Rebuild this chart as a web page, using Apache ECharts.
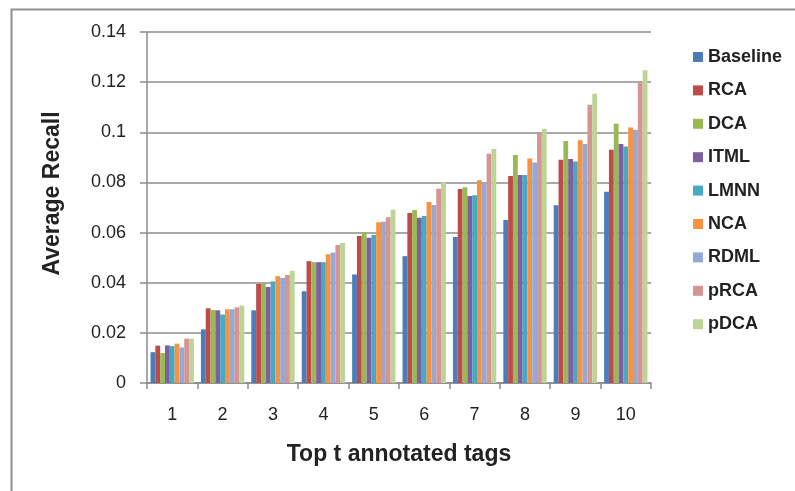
<!DOCTYPE html>
<html>
<head>
<meta charset="utf-8">
<script src="https://cdn.jsdelivr.net/npm/echarts@6/dist/echarts.min.js"></script>
<style>html,body{margin:0;padding:0;background:#fff;}#c{width:795px;height:491px;}</style>
</head>
<body>
<div id="c"></div>
<script>
var categories = ['1','2','3','4','5','6','7','8','9','10'];
var seriesNames = ['Baseline','RCA','DCA','ITML','LMNN','NCA','RDML','pRCA','pDCA'];
var baseline = [0.0123, 0.0214, 0.0290, 0.0366, 0.0433, 0.0506, 0.0582, 0.0650, 0.0709, 0.0763];
var rca      = [0.0149, 0.0298, 0.0395, 0.0486, 0.0586, 0.0678, 0.0774, 0.0826, 0.0890, 0.0930];
var dca      = [0.0119, 0.0291, 0.0395, 0.0482, 0.0601, 0.0690, 0.0781, 0.0909, 0.0965, 0.1034];
var itml     = [0.0150, 0.0290, 0.0383, 0.0482, 0.0579, 0.0659, 0.0746, 0.0830, 0.0893, 0.0953];
var lmnn     = [0.0147, 0.0273, 0.0405, 0.0482, 0.0590, 0.0666, 0.0749, 0.0830, 0.0883, 0.0943];
var nca      = [0.0157, 0.0294, 0.0426, 0.0514, 0.0641, 0.0722, 0.0809, 0.0895, 0.0968, 0.1019];
var rdml     = [0.0142, 0.0294, 0.0419, 0.0521, 0.0643, 0.0710, 0.0802, 0.0879, 0.0953, 0.1010];
var prca     = [0.0177, 0.0302, 0.0431, 0.0550, 0.0661, 0.0775, 0.0914, 0.0995, 0.1110, 0.1201];
var pdca     = [0.0177, 0.0309, 0.0447, 0.0558, 0.0691, 0.0802, 0.0933, 0.1014, 0.1154, 0.1247];
var yTicks = ['0','0.02','0.04','0.06','0.08','0.1','0.12','0.14'];

var allData = [baseline, rca, dca, itml, lmnn, nca, rdml, prca, pdca];
var colors = ['#4a7ebb','#be4b48','#98b954','#7d60a0','#46aac5','#f69240','#95a9d5','#d69592','#bdd497'];
var gridColor = '#8c8c8c';
var font = '"Liberation Sans", Arial, sans-serif';

var chart = echarts.init(document.getElementById('c'), null, {renderer: 'canvas'});
chart.setOption({
  animation: false,
  backgroundColor: '#ffffff',
  color: colors,
  graphic: [{
    type: 'rect', left: 9, top: 7,
    shape: {x: 0, y: 0, width: 900, height: 600},
    style: {fill: 'none', stroke: '#8f8f8f', lineWidth: 2},
    silent: true, z: -1
  }],
  grid: {left: 147, right: 144, top: 32, bottom: 108, containLabel: false},
  legend: {
    orient: 'vertical', left: 688, top: 43,
    itemWidth: 10, itemHeight: 10, itemGap: 15.4,
    icon: 'rect',
    data: seriesNames,
    textStyle: {fontFamily: font, fontSize: 18, fontWeight: 'bold', color: '#222'}
  },
  xAxis: {
    type: 'category', data: categories,
    name: 'Top t annotated tags', nameLocation: 'middle', nameGap: 60,
    nameTextStyle: {fontFamily: font, fontSize: 23, fontWeight: 'bold', color: '#222'},
    axisLine: {lineStyle: {color: gridColor, width: 1.5}},
    axisTick: {show: true, length: 6, lineStyle: {color: gridColor, width: 1.5}},
    axisLabel: {fontFamily: font, fontSize: 18, color: '#222', margin: 23}
  },
  yAxis: {
    type: 'value', min: 0, max: 0.14, interval: 0.02,
    name: 'Average Recall', nameLocation: 'middle', nameGap: 83,
    nameTextStyle: {fontFamily: font, fontSize: 23, fontWeight: 'bold', color: '#222', padding: [0, 0, 0, 28]},
    axisLine: {show: true, lineStyle: {color: gridColor, width: 1.5}},
    axisTick: {show: true, length: 7, lineStyle: {color: gridColor, width: 1.5}},
    splitLine: {show: true, lineStyle: {color: gridColor, width: 1.5}},
    axisLabel: {fontFamily: font, fontSize: 18, color: '#222', margin: 21,
      formatter: function (v) { return yTicks[Math.round(v / 0.02)]; }}
  },
  series: seriesNames.map(function (n, i) {
    return {
      name: n, type: 'bar', data: allData[i],
      barGap: '0%', barCategoryGap: '14%'
    };
  })
});
</script>
</body>
</html>
